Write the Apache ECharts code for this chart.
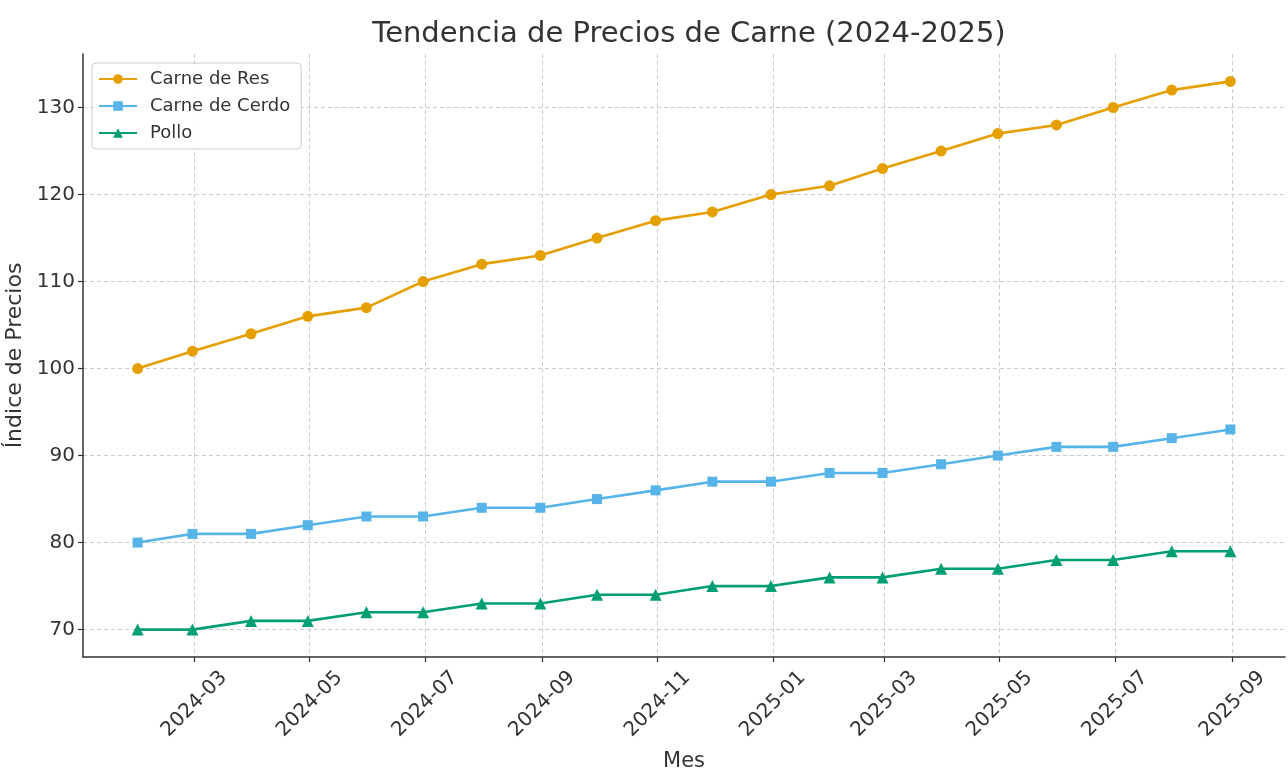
<!DOCTYPE html>
<html>
<head>
<meta charset="utf-8">
<script src="https://cdn.jsdelivr.net/npm/echarts@6/dist/echarts.min.js"></script>
<style>
  html, body { margin: 0; padding: 0; background: #fff; }
  #chart { width: 1288px; height: 774px; }
</style>
</head>
<body>
<div id="chart"></div>
<script>
// fechas de cada punto (fin de mes)
var fechas = ['2024-01-31','2024-02-29','2024-03-31','2024-04-30','2024-05-31','2024-06-30',
              '2024-07-31','2024-08-31','2024-09-30','2024-10-31','2024-11-30','2024-12-31',
              '2025-01-31','2025-02-28','2025-03-31','2025-04-30','2025-05-31','2025-06-30',
              '2025-07-31','2025-08-31'];
var carneRes   = [100,102,104,106,107,110,112,113,115,117,118,120,121,123,125,127,128,130,132,133];
var carneCerdo = [80,81,81,82,83,83,84,84,85,86,87,87,88,88,89,90,91,91,92,93];
var pollo      = [70,70,71,71,72,72,73,73,74,74,75,75,76,76,77,77,78,78,79,79];
// etiquetas del eje x
var mesesEje = ['2024-03','2024-05','2024-07','2024-09','2024-11','2025-01',
                '2025-03','2025-05','2025-07','2025-09'];
var valoresY = [70,80,90,100,110,120,130];

var FONT = 'DejaVu Sans';

function ts(s) {
    var p = s.split('-');
    return Date.UTC(+p[0], +p[1] - 1, p[2] ? +p[2] : 1);
}
var tsFechas = fechas.map(ts);
var tsEje = mesesEje.map(ts);
var primero = tsFechas[0], ultimo = tsFechas[tsFechas.length - 1];
var margen = (ultimo - primero) * 0.05;

function serie(nombre, datos, color, simbolo, tam) {
    return {
        name: nombre,
        type: 'line',
        data: datos.map(function (v, i) { return [tsFechas[i], v]; }),
        symbol: simbolo,
        symbolSize: tam,
        showSymbol: true,
        lineStyle: { color: color, width: 2.6 },
        itemStyle: { color: color },
        emphasis: { disabled: true }
    };
}

var option = {
    animation: false,
    backgroundColor: '#fff',
    title: {
        text: 'Tendencia de Precios de Carne (2024-2025)',
        left: 684,
        textAlign: 'center',
        top: 15,
        textStyle: { fontFamily: FONT, fontSize: 29, fontWeight: 'normal', color: '#333' }
    },
    legend: {
        left: 92,
        top: 63,
        orient: 'vertical',
        itemWidth: 38,
        itemHeight: 12,
        itemGap: 9,
        padding: [7, 11, 7, 6],
        borderColor: '#ccc',
        borderWidth: 1,
        borderRadius: 4,
        backgroundColor: 'rgba(255,255,255,0.8)',
        textStyle: { fontFamily: FONT, fontSize: 18, color: '#333', padding: [0, 0, 0, 8] }
    },
    grid: { left: 83, right: 3, top: 54, bottom: 117, containLabel: false, outerBoundsMode: 'none' },
    xAxis: {
        type: 'value',
        min: primero - margen,
        max: ultimo + margen,
        name: 'Mes',
        nameLocation: 'middle',
        nameGap: 94,
        nameTextStyle: { fontFamily: FONT, fontSize: 21, color: '#333' },
        axisLine: { lineStyle: { color: '#333', width: 1.5 } },
        axisTick: { show: true, length: 5, lineStyle: { color: '#333', width: 1.2 }, customValues: tsEje },
        axisLabel: {
            customValues: tsEje,
            rotate: 45,
            align: 'center',
            verticalAlign: 'middle',
            margin: 47,
            fontFamily: FONT,
            fontSize: 20,
            color: '#333',
            formatter: function (v) {
                var d = new Date(v);
                var m = d.getUTCMonth() + 1;
                return d.getUTCFullYear() + '-' + (m < 10 ? '0' + m : m);
            }
        },
        splitLine: { show: true, lineStyle: { color: '#ccc', type: [4, 3], width: 1 } }
    },
    yAxis: {
        type: 'value',
        min: 66.85,
        max: 136.15,
        name: 'Índice de Precios',
        nameLocation: 'middle',
        nameGap: 57,
        nameTextStyle: { fontFamily: FONT, fontSize: 22, color: '#333' },
        axisLine: { show: true, lineStyle: { color: '#333', width: 1.5 } },
        axisTick: { show: true, length: 5, lineStyle: { color: '#333', width: 1.2 }, customValues: valoresY },
        axisLabel: { customValues: valoresY, margin: 8, fontFamily: FONT, fontSize: 20, color: '#333' },
        splitLine: { show: true, lineStyle: { color: '#ccc', type: [4, 3], width: 1 } }
    },
    series: [
        serie('Carne de Res', carneRes, '#E69F00', 'circle', 11),
        serie('Carne de Cerdo', carneCerdo, '#56B4E9', 'rect', 10),
        serie('Pollo', pollo, '#009E73', 'triangle', 12)
    ]
};

var myChart = echarts.init(document.getElementById('chart'));
myChart.setOption(option);
</script>
</body>
</html>
